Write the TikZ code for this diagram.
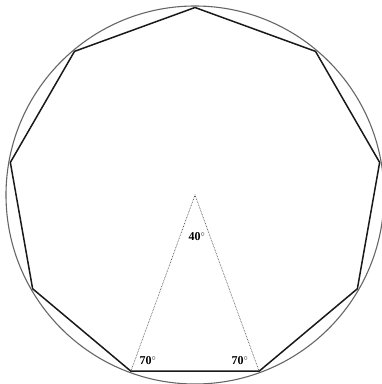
\documentclass[tikz,border=0pt]{standalone}
\usepackage{fontspec}
\setmainfont{Liberation Serif}
\usepackage{tikz}
\usetikzlibrary{calc}

\begin{document}
\begin{tikzpicture}[x=1pt, y=1pt]
    \useasboundingbox (0, 0) rectangle (382, 384);
    \coordinate (o) at (195, 189);

    % Circle
    \draw[line width=1.1pt, black!60] (o) circle (189);

    % Nonagon
    \foreach \i in {0, ..., 8} {
        \coordinate (v\i) at ($(o) + ({90 - 40*\i}:187.5)$);
    }
    \draw[line width=1.5pt, black!90, line join=round]
        (v0) -- (v1) -- (v2) -- (v3) -- (v4) -- (v5) -- (v6) -- (v7) -- (v8) -- cycle;

    % Triangle
    \draw[dash pattern=on 0.7pt off 0.9pt, line width=0.6pt, black!75] (v5) -- (o) -- (v4);
    \node[font=\fontsize{12}{14}\selectfont\bfseries] (top) at (197, 147) {40$^\circ$};
    \node[font=\fontsize{12}{14}\selectfont\bfseries] (left) at (148, 23) {70$^\circ$};
    \node[font=\fontsize{12}{14}\selectfont\bfseries] (right) at (240, 23) {70$^\circ$};
\end{tikzpicture}
\end{document}
